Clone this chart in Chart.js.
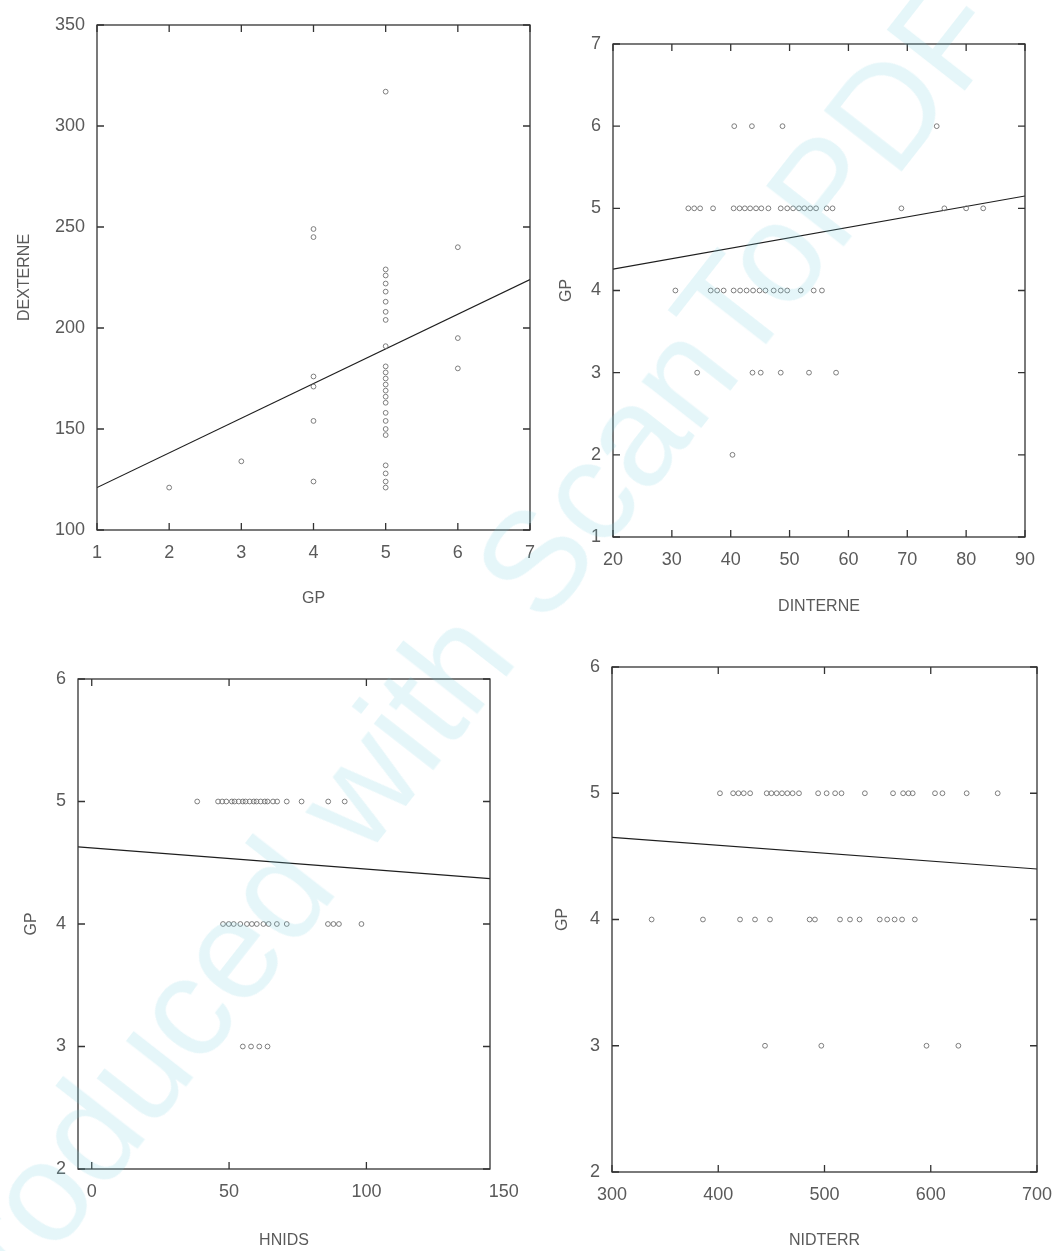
<!DOCTYPE html>
<html>
<head>
<meta charset="utf-8">
<script src="https://cdn.jsdelivr.net/npm/chart.js@4.4.1/dist/chart.umd.min.js"></script>
<style>
  html, body { margin: 0; padding: 0; background: #fff; }
  body { width: 1056px; height: 1251px; position: relative; overflow: hidden; }
  .panel { position: absolute; }
  #mark {
    position: absolute; left: 450px; top: 670px;
    transform: translate(-50%, -50%) rotate(-52deg);
    font-family: "Liberation Sans", Arial, sans-serif; font-size: 142px;
    color: rgba(110, 205, 220, 0.18); white-space: nowrap;
    pointer-events: none; z-index: 5;
  }
</style>
</head>
<body>
<div class="panel" id="p1"><canvas id="c1"></canvas></div>
<div class="panel" id="p2"><canvas id="c2"></canvas></div>
<div class="panel" id="p3"><canvas id="c3"></canvas></div>
<div class="panel" id="p4"><canvas id="c4"></canvas></div>
<div id="mark">Produced with ScanToPDF</div>
<script>
// ---- panel 1 : DEXTERNE against GP ----
const gpTicks1 = [1, 2, 3, 4, 5, 6, 7];
const dextTicks = [100, 150, 200, 250, 300, 350];
const gpLevels1 = [2, 3, 4, 5, 6];
const dextAtGP2 = [121];
const dextAtGP3 = [134];
const dextAtGP4 = [249, 245, 176, 171, 154, 124];
const dextAtGP5 = [317, 229, 226, 222, 218, 213, 208, 204, 191, 181, 178, 175, 172, 169, 166, 163, 158, 154, 150, 147, 132, 128, 124, 121];
const dextAtGP6 = [240, 195, 180];
const fit1X = [1, 7];
const fit1Y = [121, 224];

// ---- panel 2 : GP against DINTERNE ----
const dintTicks = [20, 30, 40, 50, 60, 70, 80, 90];
const gpTicks2 = [1, 2, 3, 4, 5, 6, 7];
const gpLevels2 = [6, 5, 4, 3, 2];
const dintAtGP6 = [40.6, 43.6, 48.8, 75];
const dintAtGP5 = [32.8, 33.8, 34.8, 37, 40.5, 41.5, 42.4, 43.3, 44.3, 45.2, 46.4, 48.5, 49.6, 50.6, 51.6, 52.5, 53.5, 54.5, 56.3, 57.3, 69, 76.3, 80, 82.9];
const dintAtGP4 = [30.6, 36.6, 37.7, 38.8, 40.5, 41.6, 42.7, 43.8, 44.9, 45.9, 47.3, 48.5, 49.6, 51.9, 54.1, 55.5];
const dintAtGP3 = [34.3, 43.7, 45.1, 48.5, 53.3, 57.9];
const dintAtGP2 = [40.3];
const fit2X = [20, 90];
const fit2Y = [4.26, 5.15];

// ---- panel 3 : GP against HNIDS ----
const hnidsTicks = [0, 50, 100, 150];
const gpTicks3 = [2, 3, 4, 5, 6];
const gpLevels3 = [5, 4, 3];
const hnidsAtGP5 = [38.4, 46, 47.5, 49, 51, 52, 53.5, 55, 56, 57.5, 59, 60, 61.5, 63, 64, 66, 67.5, 71, 76.4, 86.1, 92.1];
const hnidsAtGP4 = [47.8, 49.9, 51.7, 54.1, 56.5, 58.3, 60.1, 62.5, 64.4, 67.4, 71, 86, 88, 90, 98.2];
const hnidsAtGP3 = [55, 58, 61, 64];
const fit3X = [-5, 145];
const fit3Y = [4.63, 4.37];

// ---- panel 4 : GP against NIDTERR ----
const nidTicks = [300, 400, 500, 600, 700];
const gpTicks4 = [2, 3, 4, 5, 6];
const gpLevels4 = [5, 4, 3];
const nidAtGP5 = [401.6, 414, 419, 424, 430, 445.6, 450, 455, 460, 465, 470, 476, 494, 502, 510, 516, 538, 564.5, 574, 579, 583, 604, 611, 633.8, 663];
const nidAtGP4 = [337.3, 385.6, 420.5, 434.6, 448.7, 486, 491, 514.6, 524, 533, 552, 559, 566, 573, 585];
const nidAtGP3 = [444, 497, 596, 626];
const fit4X = [300, 700];
const fit4Y = [4.65, 4.40];

const AXIS_W = 95, AXIS_H = 90, PAD_T = 20, PAD_R = 44;
const TEXT = '#5a5a5a';
const tickFont = { family: '"Liberation Sans", Arial, sans-serif', size: 18 };
const titleFont = { family: '"Liberation Sans", Arial, sans-serif', size: 16 };

// points where the group value is on the x axis
const byX = (levels, groups) => groups.flatMap((ys, i) => ys.map(v => ({ x: levels[i], y: v })));
// points where the group value is on the y axis
const byY = (levels, groups) => groups.flatMap((xs, i) => xs.map(v => ({ x: v, y: levels[i] })));
const pairs = (xs, ys) => xs.map((v, i) => ({ x: v, y: ys[i] }));

// box around the plot plus inward tick marks on all four sides
const framePlugin = {
  id: 'frame',
  afterDatasetsDraw(chart) {
    const { ctx, chartArea: a, scales: { x, y } } = chart;
    ctx.save();
    ctx.strokeStyle = '#333';
    ctx.lineWidth = 1.3;
    ctx.strokeRect(a.left, a.top, a.right - a.left, a.bottom - a.top);
    ctx.beginPath();
    x.ticks.forEach(t => {
      const px = x.getPixelForValue(t.value);
      if (px < a.left - 1 || px > a.right + 1) return;
      ctx.moveTo(px, a.bottom); ctx.lineTo(px, a.bottom - 7);
      ctx.moveTo(px, a.top); ctx.lineTo(px, a.top + 7);
    });
    y.ticks.forEach(t => {
      const py = y.getPixelForValue(t.value);
      if (py < a.top - 1 || py > a.bottom + 1) return;
      ctx.moveTo(a.left, py); ctx.lineTo(a.left + 7, py);
      ctx.moveTo(a.right, py); ctx.lineTo(a.right - 7, py);
    });
    ctx.stroke();
    ctx.restore();
  }
};

function makePanel(n, box, o) {
  const wrap = document.getElementById('p' + n);
  wrap.style.left = (box.left - AXIS_W) + 'px';
  wrap.style.top = (box.top - PAD_T) + 'px';
  wrap.style.width = (box.right - box.left + AXIS_W + PAD_R) + 'px';
  wrap.style.height = (box.bottom - box.top + PAD_T + AXIS_H) + 'px';

  new Chart(document.getElementById('c' + n), {
    type: 'scatter',
    data: {
      datasets: [
        {
          data: o.points,
          pointStyle: 'circle',
          pointRadius: 2.4,
          pointBorderWidth: 0.9,
          borderColor: '#707070',
          backgroundColor: 'rgba(0,0,0,0)'
        },
        {
          type: 'line',
          data: o.fit,
          borderColor: '#1e1e1e',
          borderWidth: 1.2,
          pointRadius: 0,
          fill: false,
          tension: 0
        }
      ]
    },
    options: {
      responsive: true,
      maintainAspectRatio: false,
      animation: false,
      layout: { padding: { left: 0, top: PAD_T, right: PAD_R, bottom: 0 } },
      plugins: { legend: { display: false }, tooltip: { enabled: false } },
      scales: {
        x: {
          type: 'linear',
          min: o.xMin, max: o.xMax,
          afterBuildTicks: s => { s.ticks = o.xTicks.map(v => ({ value: v })); },
          afterFit: s => { s.height = AXIS_H; s.paddingLeft = 0; s.paddingRight = 0; },
          grid: { display: false, drawTicks: false },
          border: { display: false },
          ticks: { autoSkip: false, maxRotation: 0, padding: 12, color: TEXT, font: tickFont },
          title: { display: true, text: o.xTitle, color: TEXT, font: titleFont, padding: { top: 0, bottom: o.xTitlePad } }
        },
        y: {
          type: 'linear',
          min: o.yMin, max: o.yMax,
          afterBuildTicks: s => { s.ticks = o.yTicks.map(v => ({ value: v })); },
          afterFit: s => { s.width = AXIS_W; s.paddingTop = 0; s.paddingBottom = 0; },
          grid: { display: false, drawTicks: false },
          border: { display: false },
          ticks: { autoSkip: false, padding: 12, color: TEXT, font: tickFont },
          title: { display: true, text: o.yTitle, color: TEXT, font: titleFont, padding: { top: o.yTitlePad, bottom: 0 } }
        }
      }
    },
    plugins: [framePlugin]
  });
}

makePanel(1, { left: 97, right: 530, top: 25, bottom: 530 }, {
  points: byX(gpLevels1, [dextAtGP2, dextAtGP3, dextAtGP4, dextAtGP5, dextAtGP6]),
  fit: pairs(fit1X, fit1Y),
  xMin: 1, xMax: 7, xTicks: gpTicks1, xTitle: 'GP', xTitlePad: 12,
  yMin: 100, yMax: 350, yTicks: dextTicks, yTitle: 'DEXTERNE', yTitlePad: 13
});

makePanel(2, { left: 613, right: 1025, top: 44, bottom: 537 }, {
  points: byY(gpLevels2, [dintAtGP6, dintAtGP5, dintAtGP4, dintAtGP3, dintAtGP2]),
  fit: pairs(fit2X, fit2Y),
  xMin: 20, xMax: 90, xTicks: dintTicks, xTitle: 'DINTERNE', xTitlePad: 11,
  yMin: 1, yMax: 7, yTicks: gpTicks2, yTitle: 'GP', yTitlePad: 39
});

makePanel(3, { left: 78, right: 490, top: 679, bottom: 1169 }, {
  points: byY(gpLevels3, [hnidsAtGP5, hnidsAtGP4, hnidsAtGP3]),
  fit: pairs(fit3X, fit3Y),
  xMin: -5, xMax: 145, xTicks: hnidsTicks, xTitle: 'HNIDS', xTitlePad: 9,
  yMin: 2, yMax: 6, yTicks: gpTicks3, yTitle: 'GP', yTitlePad: 39
});

makePanel(4, { left: 612, right: 1037, top: 667, bottom: 1172 }, {
  points: byY(gpLevels4, [nidAtGP5, nidAtGP4, nidAtGP3]),
  fit: pairs(fit4X, fit4Y),
  xMin: 300, xMax: 700, xTicks: nidTicks, xTitle: 'NIDTERR', xTitlePad: 12,
  yMin: 2, yMax: 6, yTicks: gpTicks4, yTitle: 'GP', yTitlePad: 36
});
</script>
</body>
</html>
